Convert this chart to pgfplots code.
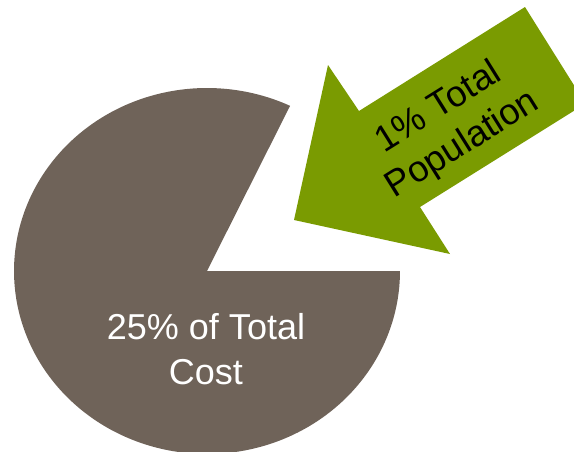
\documentclass[border=0pt]{standalone}
\usepackage{pgfplots}
\pgfplotsset{compat=1.18}
\usepackage{fontspec}
\setmainfont{Liberation Sans}
\definecolor{piecol}{RGB}{111,99,89}
\definecolor{arrowcol}{RGB}{122,155,1}
\begin{document}
\begin{tikzpicture}
\begin{axis}[
  scale only axis, width=574pt, height=451pt,
  xmin=0, xmax=574, ymin=0, ymax=451, y dir=reverse,
  hide axis, clip=true]
% remaining pie share (missing slice = the highlighted share)
\addplot[fill=piecol, draw=none, domain=64.5:360, samples=240]
  ({207+193*cos(x)},{271-183*sin(x)}) -- (axis cs:207,271) -- cycle;
% arrow
\addplot[fill=arrowcol, draw=none] coordinates {
  (294,220) (328,65) (359,111) (525,7) (585.5,103.6) (420,207) (450,254)
} -- cycle;
\node[font=\fontsize{36}{45}\selectfont, text=white, anchor=base, inner sep=0pt] at (axis cs:206,339) {25\% of Total};
\node[font=\fontsize{36}{45}\selectfont, text=white, anchor=base, inner sep=0pt] at (axis cs:206,384) {Cost};
\node[font=\fontsize{36.5}{45}\selectfont, text=black, anchor=base, inner sep=0pt, rotate=32] at (axis cs:444,116) {1\% Total};
\node[font=\fontsize{36.5}{45}\selectfont, text=black, anchor=base, inner sep=0pt, rotate=32] at (axis cs:468,153) {Population};
\coordinate (A) at (rel axis cs:0,0);
\coordinate (B) at (rel axis cs:1,1);
\end{axis}
\pgfresetboundingbox
\path (A) rectangle (B);
\end{tikzpicture}
\end{document}
